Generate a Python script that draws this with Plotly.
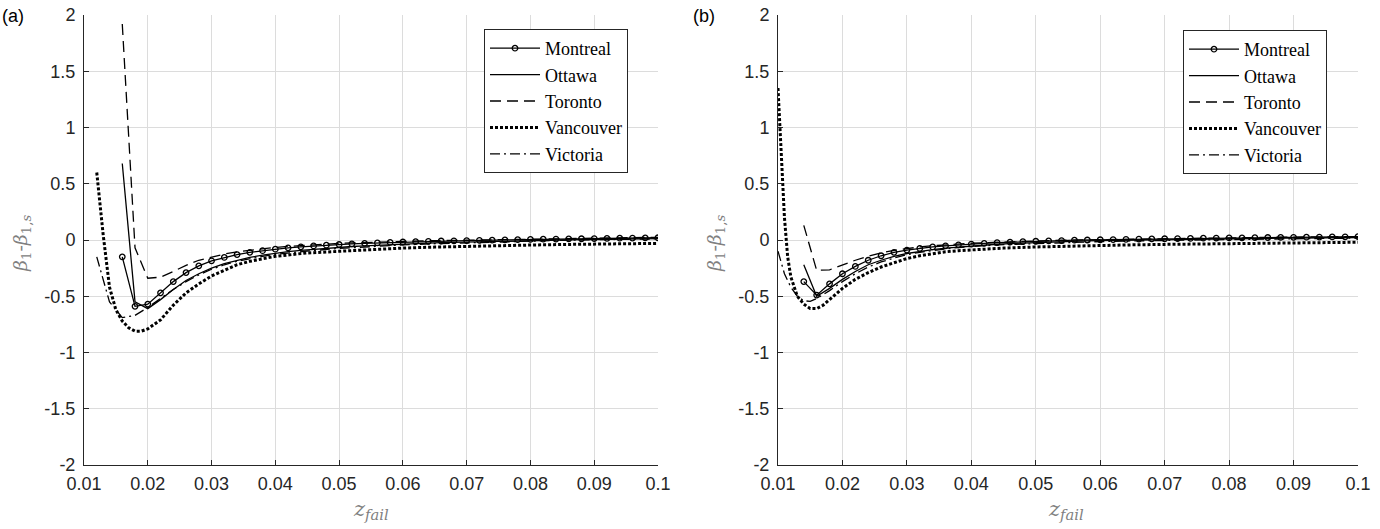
import plotly.graph_objects as go

# ---------------- Panel (a) data ----------------
a_montreal_x = [0.016, 0.018, 0.020, 0.022, 0.024, 0.026, 0.028, 0.030, 0.032, 0.034, 0.036, 0.038, 0.040,
                0.042, 0.044, 0.046, 0.048, 0.050, 0.052, 0.054, 0.056, 0.058, 0.060, 0.062, 0.064, 0.066,
                0.068, 0.070, 0.072, 0.074, 0.076, 0.078, 0.080, 0.082, 0.084, 0.086, 0.088, 0.090, 0.092,
                0.094, 0.096, 0.098, 0.100]
a_montreal_y = [-0.15, -0.59, -0.57, -0.47, -0.37, -0.29, -0.23, -0.185, -0.155, -0.13, -0.11, -0.095, -0.082,
                -0.07, -0.061, -0.053, -0.046, -0.04, -0.035, -0.03, -0.026, -0.022, -0.018, -0.015, -0.012, -0.009,
                -0.007, -0.005, -0.003, -0.001, 0.001, 0.003, 0.005, 0.007, 0.008, 0.010, 0.011, 0.013, 0.014,
                0.016, 0.017, 0.018, 0.020]

a_ottawa_x = a_montreal_x
a_ottawa_y = [0.68, -0.55, -0.61, -0.53, -0.44, -0.36, -0.30, -0.25, -0.21, -0.18, -0.155, -0.135, -0.118,
              -0.104, -0.092, -0.082, -0.073, -0.065, -0.058, -0.052, -0.046, -0.041, -0.036, -0.032, -0.028, -0.024,
              -0.021, -0.018, -0.015, -0.012, -0.010, -0.007, -0.005, -0.003, -0.001, 0.001, 0.003, 0.004, 0.006,
              0.007, 0.009, 0.010, 0.012]

a_toronto_x = a_montreal_x
a_toronto_y = [1.92, -0.07, -0.34, -0.33, -0.28, -0.225, -0.18, -0.15, -0.125, -0.105, -0.09, -0.078, -0.066,
               -0.057, -0.049, -0.042, -0.036, -0.030, -0.026, -0.022, -0.018, -0.015, -0.012, -0.009, -0.007, -0.005,
               -0.003, -0.001, 0.001, 0.003, 0.005, 0.007, 0.008, 0.010, 0.012, 0.013, 0.015, 0.016, 0.018,
               0.019, 0.021, 0.022, 0.024]

a_vancouver_x = [0.012, 0.013, 0.014, 0.015, 0.016, 0.017, 0.018, 0.019, 0.020, 0.022, 0.024, 0.026, 0.028,
                 0.030, 0.032, 0.034, 0.036, 0.038, 0.040, 0.045, 0.050, 0.055, 0.060, 0.065, 0.070, 0.075,
                 0.080, 0.085, 0.090, 0.095, 0.100]
a_vancouver_y = [0.60, 0.05, -0.42, -0.62, -0.72, -0.78, -0.81, -0.81, -0.79, -0.71, -0.58, -0.47, -0.39,
                 -0.32, -0.27, -0.22, -0.19, -0.165, -0.145, -0.115, -0.10, -0.085, -0.072, -0.063, -0.055, -0.050,
                 -0.045, -0.040, -0.037, -0.034, -0.030]

a_victoria_x = [0.012, 0.014, 0.016, 0.018, 0.020, 0.022, 0.024, 0.026, 0.028, 0.030, 0.032, 0.034, 0.036,
                0.038, 0.040, 0.045, 0.050, 0.055, 0.060, 0.065, 0.070, 0.075, 0.080, 0.085, 0.090, 0.095, 0.100]
a_victoria_y = [-0.15, -0.55, -0.69, -0.67, -0.60, -0.52, -0.44, -0.37, -0.31, -0.26, -0.22, -0.19, -0.165,
                -0.145, -0.128, -0.098, -0.075, -0.058, -0.044, -0.033, -0.024, -0.016, -0.009, -0.003, 0.002, 0.006, 0.010]

# ---------------- Panel (b) data ----------------
b_montreal_x = [0.014, 0.016, 0.018, 0.020, 0.022, 0.024, 0.026, 0.028, 0.030, 0.032, 0.034, 0.036, 0.038,
                0.040, 0.042, 0.044, 0.046, 0.048, 0.050, 0.052, 0.054, 0.056, 0.058, 0.060, 0.062, 0.064,
                0.066, 0.068, 0.070, 0.072, 0.074, 0.076, 0.078, 0.080, 0.082, 0.084, 0.086, 0.088, 0.090,
                0.092, 0.094, 0.096, 0.098, 0.100]
b_montreal_y = [-0.37, -0.49, -0.39, -0.30, -0.235, -0.18, -0.14, -0.11, -0.09, -0.075, -0.062, -0.052, -0.043,
                -0.036, -0.030, -0.024, -0.019, -0.015, -0.011, -0.008, -0.005, -0.002, 0.000, 0.002, 0.004, 0.006,
                0.008, 0.010, 0.011, 0.013, 0.014, 0.016, 0.017, 0.018, 0.019, 0.021, 0.022, 0.023, 0.024,
                0.025, 0.026, 0.027, 0.028, 0.030]

b_ottawa_x = b_montreal_x
b_ottawa_y = [-0.22, -0.50, -0.43, -0.35, -0.28, -0.22, -0.18, -0.145, -0.12, -0.10, -0.085, -0.072, -0.062,
              -0.053, -0.045, -0.038, -0.032, -0.027, -0.022, -0.018, -0.014, -0.011, -0.008, -0.005, -0.003, -0.001,
              0.001, 0.003, 0.005, 0.006, 0.008, 0.009, 0.011, 0.012, 0.013, 0.014, 0.015, 0.016, 0.017,
              0.018, 0.019, 0.020, 0.021, 0.022]

b_toronto_x = b_montreal_x
b_toronto_y = [0.13, -0.27, -0.265, -0.22, -0.18, -0.145, -0.115, -0.092, -0.075, -0.062, -0.051, -0.042, -0.035,
               -0.029, -0.024, -0.019, -0.015, -0.011, -0.008, -0.005, -0.002, 0.000, 0.002, 0.004, 0.006, 0.008,
               0.010, 0.012, 0.013, 0.015, 0.016, 0.018, 0.019, 0.020, 0.022, 0.023, 0.024, 0.025, 0.026,
               0.027, 0.028, 0.029, 0.030, 0.031]

b_vancouver_x = [0.010, 0.0105, 0.011, 0.0115, 0.012, 0.013, 0.014, 0.015, 0.016, 0.017, 0.018, 0.019, 0.020,
                 0.022, 0.024, 0.026, 0.028, 0.030, 0.032, 0.034, 0.036, 0.038, 0.040, 0.045, 0.050, 0.055,
                 0.060, 0.065, 0.070, 0.075, 0.080, 0.085, 0.090, 0.095, 0.100]
b_vancouver_y = [1.35, 0.72, 0.20, -0.15, -0.33, -0.50, -0.57, -0.61, -0.61, -0.58, -0.53, -0.48, -0.43,
                 -0.35, -0.29, -0.24, -0.20, -0.165, -0.14, -0.12, -0.105, -0.095, -0.087, -0.072, -0.062, -0.054,
                 -0.048, -0.043, -0.039, -0.035, -0.032, -0.029, -0.026, -0.023, -0.020]

b_victoria_x = [0.010, 0.011, 0.012, 0.013, 0.014, 0.015, 0.016, 0.018, 0.020, 0.022, 0.024, 0.026, 0.028,
                0.030, 0.032, 0.034, 0.036, 0.038, 0.040, 0.045, 0.050, 0.055, 0.060, 0.065, 0.070, 0.075,
                0.080, 0.085, 0.090, 0.095, 0.100]
b_victoria_y = [-0.10, -0.30, -0.42, -0.50, -0.54, -0.545, -0.52, -0.45, -0.37, -0.30, -0.24, -0.195, -0.16,
                -0.13, -0.11, -0.093, -0.079, -0.067, -0.057, -0.042, -0.031, -0.022, -0.014, -0.008, -0.003, 0.001,
                0.005, 0.008, 0.011, 0.014, 0.017]

x_tickvals = [0.01, 0.02, 0.03, 0.04, 0.05, 0.06, 0.07, 0.08, 0.09, 0.1]
x_ticktext = ["0.01", "0.02", "0.03", "0.04", "0.05", "0.06", "0.07", "0.08", "0.09", "0.1"]
y_tickvals = [-2, -1.5, -1, -0.5, 0, 0.5, 1, 1.5, 2]
y_ticktext = ["-2", "-1.5", "-1", "-0.5", "0", "0.5", "1", "1.5", "2"]

names = ["Montreal", "Ottawa", "Toronto", "Vancouver", "Victoria"]

W, H = 1380, 529
INK = "#262626"

styles = {
    "Montreal": dict(line=dict(color="black", width=1.3), mode="lines+markers",
                     marker=dict(symbol="circle-open", size=5.5, color="black", line=dict(width=1.3))),
    "Ottawa": dict(line=dict(color="black", width=1.3), mode="lines"),
    "Toronto": dict(line=dict(color="black", width=1.3, dash="11px,6px"), mode="lines"),
    "Vancouver": dict(line=dict(color="black", width=3.0, dash="3px,2px"), mode="lines"),
    "Victoria": dict(line=dict(color="black", width=1.3, dash="10px,4px,2px,4px"), mode="lines"),
}

panel_a = {
    "Montreal": (a_montreal_x, a_montreal_y),
    "Ottawa": (a_ottawa_x, a_ottawa_y),
    "Toronto": (a_toronto_x, a_toronto_y),
    "Vancouver": (a_vancouver_x, a_vancouver_y),
    "Victoria": (a_victoria_x, a_victoria_y),
}
panel_b = {
    "Montreal": (b_montreal_x, b_montreal_y),
    "Ottawa": (b_ottawa_x, b_ottawa_y),
    "Toronto": (b_toronto_x, b_toronto_y),
    "Vancouver": (b_vancouver_x, b_vancouver_y),
    "Victoria": (b_victoria_x, b_victoria_y),
}

fig = go.Figure()
for n in names:
    x, y = panel_a[n]
    fig.add_trace(go.Scatter(x=x, y=y, name=n, xaxis="x", yaxis="y", legend="legend", **styles[n]))
for n in names:
    x, y = panel_b[n]
    fig.add_trace(go.Scatter(x=x, y=y, name=n, xaxis="x2", yaxis="y2", legend="legend2", **styles[n]))

def px_x(p):
    return p / W

def px_y(p):
    return 1 - p / H

axis_common = dict(
    showline=True, linecolor=INK, linewidth=1, mirror=False,
    ticks="inside", ticklen=5, tickcolor=INK, tickwidth=1,
    showgrid=True, gridcolor="#dcdcdc", gridwidth=1, zeroline=False,
    tickfont=dict(family="Liberation Sans, Arial, sans-serif", size=18, color=INK),
    automargin=False,
)

top, bottom = 15, 465
legend_common = dict(xanchor="left", yanchor="top",
                     bgcolor="white", bordercolor=INK, borderwidth=1, itemwidth=50,
                     font=dict(family="Liberation Serif, serif", size=18, color="black"),
                     tracegroupgap=0)
fig.update_layout(
    width=W, height=H,
    margin=dict(l=0, r=0, t=0, b=0),
    paper_bgcolor="white", plot_bgcolor="white",
    showlegend=True,
    xaxis=dict(domain=[px_x(84), px_x(658)], range=[0.01, 0.1], anchor="y",
               tickvals=x_tickvals, ticktext=x_ticktext, ticklabelstandoff=2, **axis_common),
    yaxis=dict(domain=[px_y(bottom), px_y(top)], range=[-2, 2], anchor="x",
               tickvals=y_tickvals, ticktext=y_ticktext, ticklabelstandoff=4, **axis_common),
    xaxis2=dict(domain=[px_x(778), px_x(1358)], range=[0.01, 0.1], anchor="y2",
                tickvals=x_tickvals, ticktext=x_ticktext, ticklabelstandoff=2, **axis_common),
    yaxis2=dict(domain=[px_y(bottom), px_y(top)], range=[-2, 2], anchor="x2",
                tickvals=y_tickvals, ticktext=y_ticktext, ticklabelstandoff=4, **axis_common),
    legend=dict(x=px_x(484), y=px_y(29), **legend_common),
    legend2=dict(x=px_x(1183), y=px_y(30), **legend_common),
)

ylab = "<i>β</i><sub>1</sub>-<i>β</i><sub>1,<i>s</i></sub>"
xlab = "<i>z</i><sub><i>fail</i></sub>"
lab_font = dict(family="DejaVu Serif, serif", size=19, color="#808080")
annotations = [
    dict(text=ylab, x=px_x(22), y=px_y(243), xref="paper", yref="paper", textangle=-90,
         showarrow=False, font=lab_font, xanchor="center", yanchor="middle"),
    dict(text=ylab, x=px_x(716), y=px_y(243), xref="paper", yref="paper", textangle=-90,
         showarrow=False, font=lab_font, xanchor="center", yanchor="middle"),
    dict(text=xlab, x=px_x(371), y=px_y(510), xref="paper", yref="paper",
         showarrow=False, font=dict(family="DejaVu Serif, serif", size=21, color="#808080"),
         xanchor="center", yanchor="middle"),
    dict(text=xlab, x=px_x(1066), y=px_y(510), xref="paper", yref="paper",
         showarrow=False, font=dict(family="DejaVu Serif, serif", size=21, color="#808080"),
         xanchor="center", yanchor="middle"),
    dict(text="(a)", x=px_x(0), y=px_y(16), xref="paper", yref="paper", showarrow=False,
         font=dict(family="Liberation Sans, Arial, sans-serif", size=18, color="black"),
         xanchor="left", yanchor="middle"),
    dict(text="(b)", x=px_x(691), y=px_y(16), xref="paper", yref="paper", showarrow=False,
         font=dict(family="Liberation Sans, Arial, sans-serif", size=18, color="black"),
         xanchor="left", yanchor="middle"),
]
fig.update_layout(annotations=annotations)

fig.write_html("out.html")
